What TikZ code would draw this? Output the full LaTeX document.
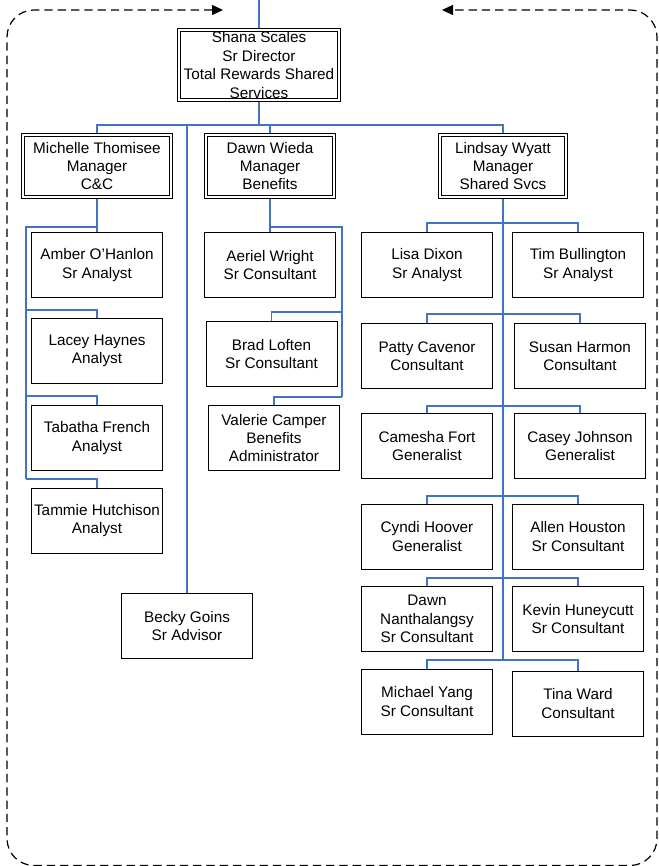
\documentclass[tikz,border=0pt]{standalone}
\usepackage{fontspec}
\setmainfont{Liberation Sans}
\usetikzlibrary{arrows.meta}
\definecolor{linkblue}{HTML}{4472C4}
\pgfdeclarelayer{bg}
\pgfsetlayers{bg,main}
\begin{document}
\begin{tikzpicture}[x=1pt,y=-1pt,
  every node/.style={font=\fontsize{15.3pt}{18.4pt}\selectfont, align=center, inner sep=0pt},
  emp/.style={draw=black, fill=white, line width=1pt, minimum width=131pt, minimum height=65pt},
  mgr/.style={draw=black, fill=white, line width=1pt, double=white, double distance=1.8pt, minimum height=62.2pt},
  conn/.style={draw=linkblue, line width=1.3pt},
  border/.style={draw=black, line width=1.2pt, dash pattern=on 8.3pt off 5pt, rounded corners=27pt,
    {Triangle[length=11pt,width=10pt]}-{Triangle[length=11pt,width=10pt]}}]
\useasboundingbox (0,0) rectangle (658,866);

% managers
\node[mgr, minimum width=160.2pt, minimum height=70.2pt] (shana) at (259,65) {Shana Scales\\Sr Director\\Total Rewards Shared\\Services};
\node[mgr, minimum width=148.2pt] (michelle) at (97,166) {Michelle Thomisee\\Manager\\C\&C};
\node[mgr, minimum width=128.2pt] (dawnw) at (270,166) {Dawn Wieda\\Manager\\Benefits};
\node[mgr, minimum width=126.2pt] (lindsay) at (503,166) {Lindsay Wyatt\\Manager\\Shared Svcs};

% C&C
\node[emp] (amber) at (97,265) {Amber O'Hanlon\\Sr Analyst};
\node[emp] (lacey) at (97,351) {Lacey Haynes\\Analyst};
\node[emp] (tabatha) at (97,438) {Tabatha French\\Analyst};
\node[emp] (tammie) at (97,520.5) {Tammie Hutchison\\Analyst};

% Benefits
\node[emp] (aeriel) at (270,265) {Aeriel Wright\\Sr Consultant};
\node[emp] (brad) at (271.5,354) {Brad Loften\\Sr Consultant};
\node[emp] (valerie) at (274,438) {Valerie Camper\\Benefits\\Administrator};

% Advisor
\node[emp] (becky) at (187,626) {Becky Goins\\Sr Advisor};

% Shared Svcs
\node[emp] (lisa) at (427,265) {Lisa Dixon\\Sr Analyst};
\node[emp] (tim) at (578,265) {Tim Bullington\\Sr Analyst};
\node[emp] (patty) at (427,356) {Patty Cavenor\\Consultant};
\node[emp] (susan) at (580,356) {Susan Harmon\\Consultant};
\node[emp] (camesha) at (427,446) {Camesha Fort\\Generalist};
\node[emp] (casey) at (580,446) {Casey Johnson\\Generalist};
\node[emp] (cyndi) at (427,536.5) {Cyndi Hoover\\Generalist};
\node[emp] (allen) at (578,536.5) {Allen Houston\\Sr Consultant};
\node[emp] (dawnn) at (427,619) {Dawn\\Nanthalangsy\\Sr Consultant};
\node[emp] (kevin) at (578,619) {Kevin Huneycutt\\Sr Consultant};
\node[emp] (michael) at (427,701.5) {Michael Yang\\Sr Consultant};
\node[emp] (tina) at (578,703.5) {Tina Ward\\Consultant};

\begin{pgfonlayer}{bg}
% top level
\coordinate (topin) at (259,0);
\coordinate (bus) at (259,125);
\draw[conn] (topin) -- (shana.north);
\draw[conn] (shana.south) -- (bus);
\draw[conn] (michelle.north) -- (michelle.north |- bus) -- (lindsay.north |- bus) -- (lindsay.north);
\draw[conn] (dawnw.north) -- (dawnw.north |- bus);
\draw[conn] (becky.north) -- (becky.north |- bus);

% C&C
\coordinate (mtop) at (97,227);
\coordinate (mleft) at (26,227);
\coordinate (m2) at (26,310);
\coordinate (m3) at (26,396);
\coordinate (m4) at (26,479);
\draw[conn] (michelle.south) -- (amber.north);
\draw[conn] (mtop) -- (mleft) -- (m4);
\draw[conn] (m2) -| (lacey.north);
\draw[conn] (m3) -| (tabatha.north);
\draw[conn] (m4) -| (tammie.north);

% Benefits
\coordinate (dtop) at (270,227);
\coordinate (dright) at (342,227);
\coordinate (d2) at (342,312);
\coordinate (d3) at (342,397);
\draw[conn] (dawnw.south) -- (aeriel.north);
\draw[conn] (dtop) -- (dright) -- (d3);
\draw[conn] (d2) -| (brad.north);
\draw[conn] (d3) -| (valerie.north);

% Shared Svcs
\coordinate (ltrunk) at (503,660);
\coordinate (r1) at (503,223);
\coordinate (r2) at (503,314);
\coordinate (r3) at (503,406);
\coordinate (r4) at (503,496);
\coordinate (r5) at (503,578);
\coordinate (r6) at (503,660);
\draw[conn] (lindsay.south) -- (ltrunk);
\draw[conn] (lisa.north) |- (r1) -| (tim.north);
\draw[conn] (patty.north) |- (r2) -| (susan.north);
\draw[conn] (camesha.north) |- (r3) -| (casey.north);
\draw[conn] (cyndi.north) |- (r4) -| (allen.north);
\draw[conn] (dawnn.north) |- (r5) -| (kevin.north);
\draw[conn] (michael.north) |- (r6) -| (tina.north);
\end{pgfonlayer}

% dashed loop
\coordinate (al) at (223,10);
\coordinate (ar) at (442,10);
\draw[border] (al) -- (7,10) -- (7,865.5) -- (657,865.5) -- (657,10) -- (ar);
\end{tikzpicture}
\end{document}
